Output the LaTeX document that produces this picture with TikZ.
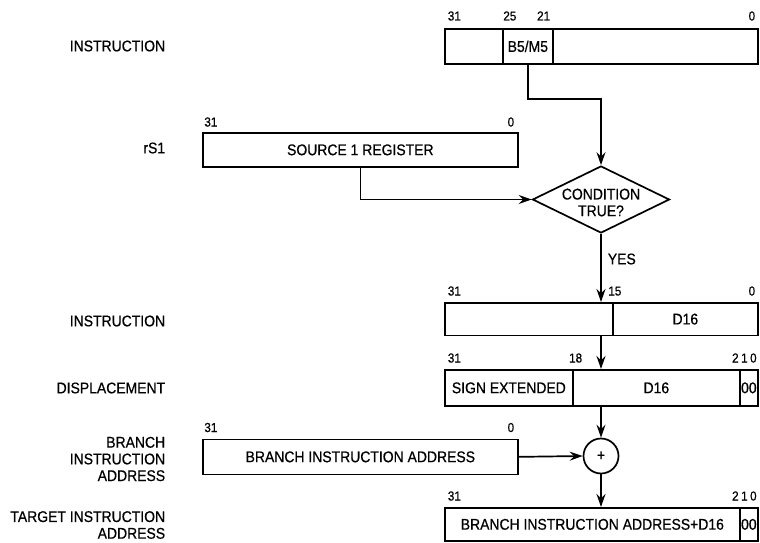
\documentclass[tikz,border=0pt]{standalone}
\usepackage{fontspec}
\setmainfont[FakeStretch=0.9,FakeBold=0.6]{Liberation Sans}
\usetikzlibrary{arrows.meta,shapes.geometric}
\begin{document}
\begin{tikzpicture}[x=1pt,y=-1pt,line width=1.7pt,
  txt/.style={font=\fontsize{15.5}{16.7}\selectfont,inner sep=0pt},
  lbl/.style={txt,align=right,anchor=east},
  bit/.style={font=\fontsize{13}{14}\selectfont,inner sep=0pt},
  field/.style={draw,txt,anchor=north west,minimum height=#1},
  field/.default=35pt,
  arr/.style={-{Stealth[length=13pt,width=9pt,inset=4.5pt]}}
]
\useasboundingbox (0,0) rectangle (760,543);

% left labels
\node[lbl] (l1) at (166,46) {INSTRUCTION};
\node[lbl] (l2) at (166,148) {rS1};
\node[lbl] (l3) at (166,321) {INSTRUCTION};
\node[lbl] (l4) at (166,388) {DISPLACEMENT};
\node[lbl] (l5) at (166,459) {BRANCH\\INSTRUCTION\\ADDRESS};
\node[lbl] (l6) at (166,525) {TARGET INSTRUCTION\\ADDRESS};

% top instruction
\node[field,minimum width=58pt] (i1a) at (444,28) {};
\node[field,minimum width=50pt] (i1b) at (502,28) {B5/M5};
\node[field,minimum width=205pt] (i1c) at (552,28) {};
\node[bit,anchor=base west] (b1) at (447,20.5) {31};
\node[bit,anchor=base west] (b2) at (502.5,20.5) {25};
\node[bit,anchor=base east] (b3) at (551,20.5) {21};
\node[bit,anchor=base east] (b4) at (756,20.5) {0};

% source 1 register
\node[field,minimum width=315pt,minimum height=34pt] (rs) at (202,132) {SOURCE 1 REGISTER};
\node[bit,anchor=base west] (b5) at (203.5,126.5) {31};
\node[bit,anchor=base east] (b6) at (515,126.5) {0};

% condition
\node[diamond,draw,minimum width=137pt,minimum height=67pt,inner sep=0pt,
  label={[txt,align=center,yshift=-3pt]center:CONDITION\\TRUE?}] (cond) at (601,199.5) {};
\node[txt,anchor=west] (yes) at (607,259) {YES};

% second instruction
\node[field,minimum width=168pt,minimum height=32.5pt] (i2a) at (444,302) {};
\node[field,minimum width=145pt,minimum height=32.5pt] (i2b) at (612,302) {D16};
\node[bit,anchor=base west] (b7) at (447,295.5) {31};
\node[bit,anchor=base west] (b8) at (607.5,295.5) {15};
\node[bit,anchor=base east] (b9) at (756,295.5) {0};

% displacement
\node[field=36pt,minimum width=128pt] (da) at (444,369) {SIGN EXTENDED};
\node[field=36pt,minimum width=167pt] (db) at (572,369) {D16};
\node[field=36pt,minimum width=18pt] (dc) at (739,369) {00};
\node[bit,anchor=base west] (b10) at (447,362.5) {31};
\node[bit,anchor=base east] (b11) at (583,362.5) {18};
\node[bit,anchor=base east] (b12) at (757.5,362.5) {2\hspace{2.5pt}1\hspace{2.5pt}0};

% adder
\node[circle,draw,minimum size=35pt,inner sep=0pt,txt] (add) at (601,456) {+};

% branch instruction address
\node[field,minimum width=315pt] (bia) at (202,438.5) {BRANCH INSTRUCTION ADDRESS};
\node[bit,anchor=base west] (b13) at (203.5,432) {31};
\node[bit,anchor=base east] (b14) at (515,432) {0};

% target
\node[field=33pt,minimum width=295pt] (ta) at (444,507) {BRANCH INSTRUCTION ADDRESS+D16};
\node[field=33pt,minimum width=18pt] (tb) at (739,507) {00};
\node[bit,anchor=base west] (b15) at (447,500.5) {31};
\node[bit,anchor=base east] (b16) at (757.5,500.5) {2\hspace{2.5pt}1\hspace{2.5pt}0};

% connectors
\draw[arr] (i1b.south) -- ++(0,34) -| (cond.north);
\draw[arr] (rs.south) |- (cond.west);
\draw[arr] (cond.south) -- (cond.south |- i2a.north);
\draw[arr] (cond.south |- i2a.south) -- (cond.south |- da.north);
\draw[arr] (add.north |- da.south) -- (add.north);
\draw[arr] (bia.east) -- (add.west);
\draw[arr] (add.south) -- (add.south |- ta.north);
\end{tikzpicture}
\end{document}
